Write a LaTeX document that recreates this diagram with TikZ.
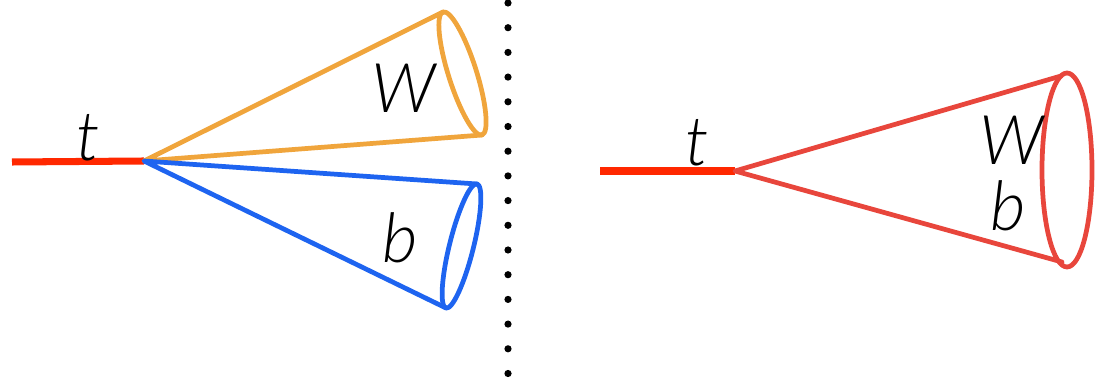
\documentclass[tikz,border=0pt]{standalone}
\usepackage{fontspec}
\IfFontExistsTF{Lato Light}{\setmainfont{Lato Light}}{\setmainfont{Lato}}
\definecolor{jetorange}{RGB}{240,165,60}
\definecolor{jetblue}{RGB}{30,100,240}
\definecolor{jetred}{RGB}{232,70,60}
\definecolor{topred}{RGB}{255,40,0}
\begin{document}
\begin{tikzpicture}[x=0.02cm,y=0.02cm,
  topline/.style={draw=topred,line width=4pt},
  cone/.style={line width=2.7pt,line join=round,line cap=round},
  lbl/.style={inner sep=0pt,font=\fontsize{39}{41}\selectfont\itshape},
  sep/.style={fill=black}]
\useasboundingbox (0,0) rectangle (1116,382);

% ---- resolved: separate W and b jets ----
\coordinate (tl0) at (12,220);
\coordinate (apL) at (144,221);
\draw[topline] (tl0) -- (apL);
\node[lbl] (tL) at (88,244) {t};

% W jet
\coordinate (wTop) at (443,370);
\coordinate (wBot) at (482,247);
\coordinate (wC) at (462.5,308.5);
\draw[cone,draw=jetorange] (wTop) -- (apL) -- (wBot);
\draw[cone,draw=jetorange,rotate around={-72.4:(wC)}] (wC) ellipse (64.5 and 14);
\node[lbl] (wL) at (404,294) {W};

% b jet
\coordinate (bTop) at (477,198);
\coordinate (bBot) at (446,74);
\coordinate (bC) at (461.5,136);
\draw[cone,draw=jetblue] (bTop) -- (apL) -- (bBot);
\draw[cone,draw=jetblue,rotate around={76:(bC)}] (bC) ellipse (64 and 12);
\node[lbl] (bL) at (400,144) {b};

% ---- dotted separator ----
\foreach \k in {0,...,15}
  \fill[sep] (508,{379-24.7*\k}) circle (3.6);

% ---- merged: single top jet ----
\coordinate (tr0) at (600,211);
\coordinate (apR) at (735,211);
\draw[topline] (tr0) -- (apR);
\node[lbl] (tR) at (697,239) {t};

\coordinate (jTop) at (1061,306);
\coordinate (jBot) at (1062,120);
\coordinate (jC) at (1067,212);
\draw[cone,draw=jetred] (jTop) -- (apR) -- (jBot);
\draw[cone,draw=jetred] (jC) ellipse (25 and 97);
\node[lbl] (wR) at (1012,242) {W};
\node[lbl] (bR) at (1008,176) {b};
\end{tikzpicture}
\end{document}
